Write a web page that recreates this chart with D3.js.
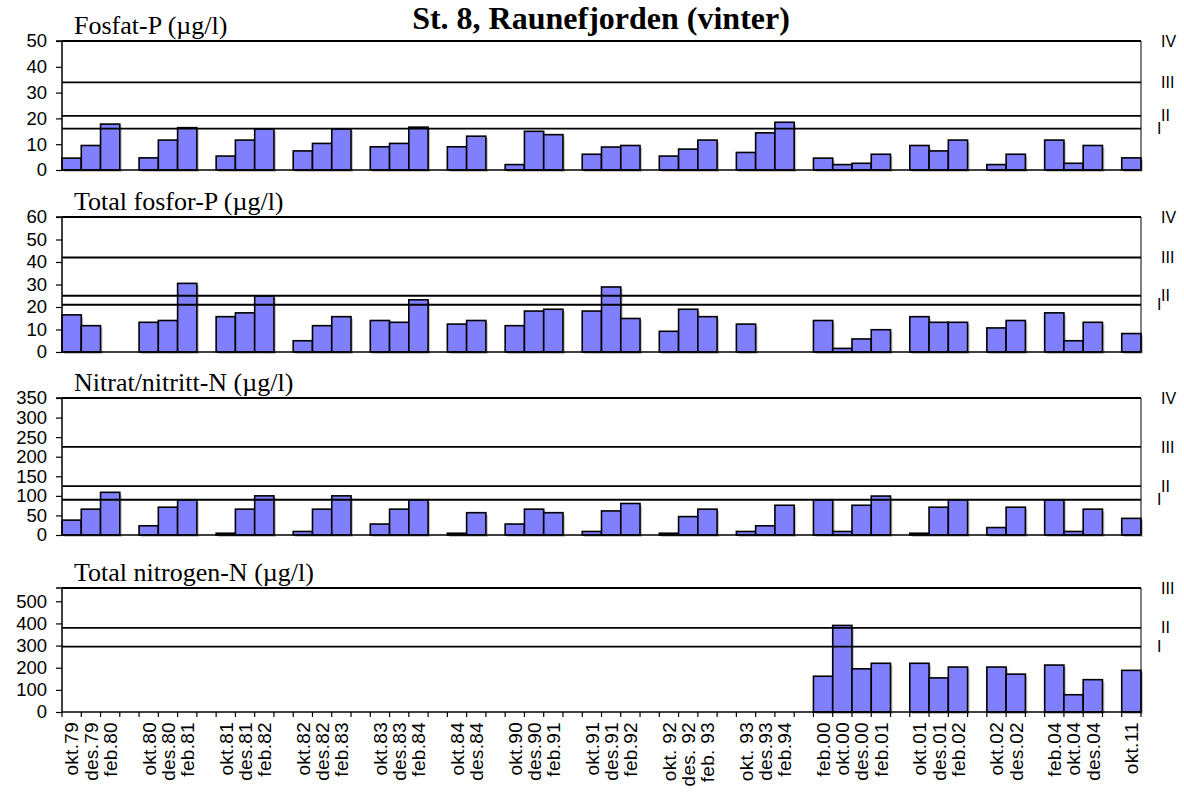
<!DOCTYPE html>
<html><head><meta charset="utf-8">
<script src="https://cdn.jsdelivr.net/npm/d3@7"></script>
<style>
body{margin:0;background:#fff;}
svg{display:block;}
</style></head>
<body>
<svg id="chart" width="1184" height="792"></svg>
<script>
// ---- data ----
const categories = ["okt.79","des.79","feb.80","", "okt.80","des.80","feb.81","", "okt.81","des.81","feb.82","",
  "okt.82","des.82","feb.83","", "okt.83","des.83","feb.84","", "okt.84","des.84","",
  "okt.90","des.90","feb.91","", "okt.91","des.91","feb.92","", "okt. 92","des. 92","feb. 93","",
  "okt. 93","des.93","feb.94","", "feb.00","okt.00","des.00","feb.01","", "okt.01","des.01","feb.02","",
  "okt.02","des.02","", "feb.04","okt.04","des.04","", "okt.11"];

const fosfatP = [4.6,9.5,17.8,null, 4.7,11.6,16.4,null, 5.4,11.6,15.9,null, 7.4,10.3,15.9,null,
  9.0,10.3,16.6,null, 9.0,13.1,null, 2.1,15.0,13.7,null, 6.1,8.9,9.5,null, 5.4,8.1,11.6,null,
  6.8,14.4,18.5,null, 4.6,2.1,2.6,6.1,null, 9.5,7.4,11.6,null, 2.1,6.1,null, 11.6,2.6,9.5,null, 4.7];

const totalP = [16.5,11.7,null,null, 13.2,14.0,30.5,null, 15.7,17.4,24.9,null, 5.0,11.7,15.7,null,
  14.0,13.2,23.2,null, 12.4,14.0,null, 11.7,18.2,19.0,null, 18.2,28.9,14.9,null, 9.2,19.0,15.7,null,
  12.4,null,null,null, 14.0,1.6,5.8,9.9,null, 15.7,13.2,13.2,null, 10.7,14.0,null, 17.4,5.0,13.2,null, 8.2];

const nitratN = [38,66,109,null, 23.5,71,90,null, 4.5,66,100,null, 9,66,100,null,
  28,66,90,null, 4.5,57,null, 28,66,57,null, 9,61.5,80.5,null, 4.5,47,66,null,
  9,23.5,76,null, 90,9,76,99.5,null, 4.5,71,90,null, 19,71,null, 90,9,66,null, 42.5];

const totalN = [null,null,null,null, null,null,null,null, null,null,null,null, null,null,null,null,
  null,null,null,null, null,null,null, null,null,null,null, null,null,null,null, null,null,null,null,
  null,null,null,null, 161.5,391,195,220,null, 220,154,203,null, 203,171,null, 212,78,146,null, 188];

const fosfatLimits = [16,21,34,50];
const totalPLimits = [21,25,42,60];
const nitratLimits = [90,125,225,350];
const totalNLimits = [295,380,560];
const classNames = ["I","II","III","IV"];

const fosfatTicks = [0,10,20,30,40,50];
const totalPTicks = [0,10,20,30,40,50,60];
const nitratTicks = [0,50,100,150,200,250,300,350];
const totalNTicks = [0,100,200,300,400,500];

const mainTitle = "St. 8, Raunefjorden (vinter)";
const panelTitles = ["Fosfat-P (µg/l)","Total fosfor-P (µg/l)","Nitrat/nitritt-N (µg/l)","Total nitrogen-N (µg/l)"];

// ---- layout ----
const svg = d3.select("#chart");
const left = 62, right = 1141;
const SANS = "'Liberation Sans', Arial, sans-serif";
const SERIF = "'Liberation Serif', 'Times New Roman', serif";

const panels = [
  {title: panelTitles[0], values: fosfatP, limits: fosfatLimits, ticks: fosfatTicks, top: 41, bottom: 170},
  {title: panelTitles[1], values: totalP, limits: totalPLimits, ticks: totalPTicks, top: 217, bottom: 352},
  {title: panelTitles[2], values: nitratN, limits: nitratLimits, ticks: nitratTicks, top: 398, bottom: 535},
  {title: panelTitles[3], values: totalN, limits: totalNLimits, ticks: totalNTicks, top: 588, bottom: 712, xLabels: true}
];

const x = d3.scaleBand().domain(d3.range(categories.length)).range([left, right]).paddingInner(0).paddingOuter(0);

svg.append("text").attr("x", 601).attr("y", 29).attr("text-anchor", "middle")
  .attr("font-family", SERIF).attr("font-weight", "bold").attr("font-size", 32).text(mainTitle);

panels.forEach((p) => {
  const maxV = p.limits[p.limits.length - 1];
  const y = d3.scaleLinear().domain([0, maxV]).range([p.bottom, p.top]);
  const g = svg.append("g");

  // title
  g.append("text").attr("x", 74).attr("y", p.top - 7)
    .attr("font-family", SERIF).attr("font-size", 26).text(p.title);

  // bars with shadow
  const data = p.values.map((v, i) => ({i, v})).filter(d => d.v != null);
  g.selectAll("rect.sh").data(data).join("rect").attr("class", "sh")
    .attr("x", d => x(d.i) + 2).attr("y", d => y(d.v) + 2)
    .attr("width", x.bandwidth()).attr("height", d => y(0) - y(d.v))
    .attr("fill", "#999").attr("opacity", 0.55);
  g.selectAll("rect.bar").data(data).join("rect").attr("class", "bar")
    .attr("x", d => x(d.i)).attr("y", d => y(d.v))
    .attr("width", x.bandwidth()).attr("height", d => y(0) - y(d.v))
    .attr("fill", "#8080ff").attr("stroke", "#000").attr("stroke-width", 1.6);

  // class limit lines (incl. top frame)
  g.selectAll("line.lim").data(p.limits).join("line").attr("class", "lim")
    .attr("x1", left).attr("x2", right).attr("y1", d => y(d)).attr("y2", d => y(d))
    .attr("stroke", "#000").attr("stroke-width", 1.8);
  // right border
  g.append("line").attr("x1", right).attr("x2", right).attr("y1", p.top).attr("y2", p.bottom)
    .attr("stroke", "#000").attr("stroke-width", 1);

  // class labels (I slightly left of II, as in the original)
  g.selectAll("text.cls").data(p.limits).join("text").attr("class", "cls")
    .attr("x", (d, k) => k === 0 ? 1157 : 1161).attr("y", d => y(d)).attr("dy", "0.35em")
    .attr("font-family", SANS).attr("font-size", 16).attr("fill", "#000")
    .text((d, k) => classNames[k]);

  // y axis
  const ya = d3.axisLeft(y).tickValues(p.ticks).tickSize(6).tickPadding(9);
  const yg = g.append("g").attr("transform", `translate(${left},0)`).call(ya);
  yg.select(".domain").attr("stroke-width", 1.5).attr("d", `M-6,${p.top}H0V${p.bottom}`);
  yg.selectAll("text").attr("font-family", SANS).attr("font-size", 18.5).attr("fill", "#000");
  yg.selectAll("line").attr("stroke-width", 1.2);

  // x baseline
  g.append("line").attr("x1", left).attr("x2", right).attr("y1", y(0)).attr("y2", y(0))
    .attr("stroke", "#000").attr("stroke-width", 1.6);

  if (p.xLabels) {
    const bounds = d3.range(categories.length).map(i => x(i)).concat([right]);
    g.selectAll("line.xt").data(bounds).join("line").attr("class", "xt")
      .attr("x1", d => d).attr("x2", d => d).attr("y1", y(0)).attr("y2", y(0) + 5)
      .attr("stroke", "#000").attr("stroke-width", 1.2);
    const xa = d3.axisBottom(x).tickSize(0).tickFormat(i => categories[i]);
    const xg = g.append("g").attr("transform", `translate(0,${y(0)})`).call(xa);
    xg.select(".domain").remove();
    xg.selectAll("text").attr("font-family", SANS).attr("font-size", 19).attr("fill", "#000")
      .attr("letter-spacing", "0.3px")
      .attr("transform", "rotate(-90)").attr("text-anchor", "end")
      .attr("x", -10).attr("y", 0).attr("dy", "0.36em");
  }
});
</script>
</body></html>
